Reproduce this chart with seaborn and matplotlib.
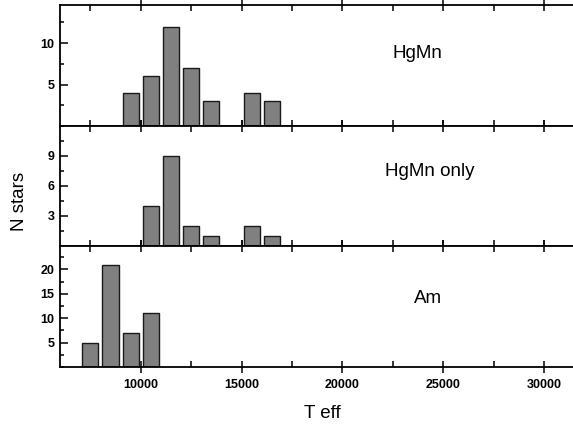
import numpy as np
import pandas as pd
import matplotlib
matplotlib.use("Agg")
import matplotlib.pyplot as plt
from matplotlib.ticker import MultipleLocator, NullFormatter, FixedLocator
import seaborn as sns

# bin centres (K) and star counts per panel
teff_hgmn = [9500, 10500, 11500, 12500, 13500, 15500, 16500]
n_hgmn = [4, 6, 12, 7, 3, 4, 3]

teff_hgmn_only = [10500, 11500, 12500, 13500, 15500, 16500]
n_hgmn_only = [4, 9, 2, 1, 2, 1]

teff_am = [7500, 8500, 9500, 10500]
n_am = [5, 21, 7, 11]

panel_names = ["HgMn", "HgMn only", "Am"]
y_major = [[5, 10], [3, 6, 9], [5, 10, 15, 20]]
y_minor_step = [2.5, 1.5, 2.5]
y_max = [14.6, 12.0, 24.8]
text_pos = [(0.696, 0.60), (0.72, 0.625), (0.717, 0.57)]

sns.set_theme(style="white")
plt.rcParams["font.family"] = ["Liberation Sans", "DejaVu Sans"]
plt.rcParams["text.color"] = "black"
plt.rcParams["xtick.color"] = "black"
plt.rcParams["ytick.color"] = "black"

fig = plt.figure(figsize=(5.73, 4.28), dpi=100)
left, right = 60 / 573, 1.0
tops = [5, 126, 246]
bots = [126, 246, 367]

datasets = [(teff_hgmn, n_hgmn), (teff_hgmn_only, n_hgmn_only), (teff_am, n_am)]
axes = []
for i, (t, n) in enumerate(datasets):
    ax = fig.add_axes([left, 1 - bots[i] / 428, right - left, (bots[i] - tops[i]) / 428])
    df = pd.DataFrame({"teff": t, "n": n})
    # width is relative to the 1000 K bin spacing with native_scale
    sns.barplot(data=df, x="teff", y="n", native_scale=True, width=0.8,
                color="#808080", saturation=1, edgecolor="#1a1a1a",
                linewidth=1.0, ax=ax)
    ax.set_xlim(6000, 31430)
    ax.set_ylim(0, y_max[i])
    ax.xaxis.set_major_locator(MultipleLocator(5000))
    ax.xaxis.set_minor_locator(FixedLocator(np.arange(7500, 31000, 5000)))
    ax.yaxis.set_major_locator(FixedLocator(y_major[i]))
    ax.yaxis.set_minor_locator(MultipleLocator(y_minor_step[i]))
    ax.set_xlabel("")
    ax.set_ylabel("")
    for side in ["left", "top", "bottom"]:
        ax.spines[side].set_visible(True)
        ax.spines[side].set_color("black")
        ax.spines[side].set_linewidth(1.3)
    ax.spines["right"].set_visible(False)
    ax.tick_params(axis="y", which="major", direction="in", length=6, width=1.1,
                   left=True, labelsize=9, pad=4, labelcolor="black")
    ax.tick_params(axis="y", which="minor", direction="in", length=3, width=1.1, left=True)
    ax.tick_params(axis="x", which="major", direction="inout", length=9, width=1.1,
                   bottom=True, top=True, labelsize=9, pad=4, labelcolor="black")
    ax.tick_params(axis="x", which="minor", direction="in", length=4, width=1.1,
                   bottom=True, top=True)
    for lab in ax.get_yticklabels() + ax.get_xticklabels():
        lab.set_fontweight("bold")
    if i < 2:
        ax.xaxis.set_major_formatter(NullFormatter())
    ax.text(text_pos[i][0], text_pos[i][1], panel_names[i], transform=ax.transAxes,
            ha="center", va="center", fontsize=13.5, color="black")
    axes.append(ax)

axes[2].set_xticks([10000, 15000, 20000, 25000, 30000])
axes[2].set_xticklabels(["10000", "15000", "20000", "25000", "30000"], fontweight="bold")

fig.text(20 / 573, 1 - 201 / 428, "N stars", rotation=90, ha="center", va="center",
         fontsize=13.5, color="black")
fig.text(322 / 573, 1 - 413 / 428, "T eff", ha="center", va="center",
         fontsize=13.5, color="black")

fig.savefig("out.png", dpi=100)
